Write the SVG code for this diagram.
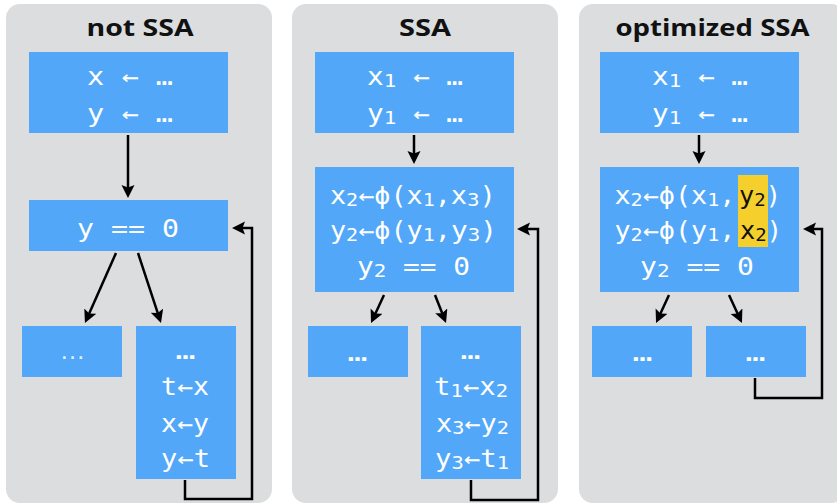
<svg xmlns="http://www.w3.org/2000/svg" width="837" height="504" viewBox="0 0 837 504">
<style>
.panel{fill:#DCDDDF}
.blk{fill:#52A7F8}
.hlbox{fill:#F5D02C}
.title{font-family:"Open Sans","Liberation Sans",sans-serif;font-weight:700;font-size:24px;fill:#111}
.code{font-family:"DejaVu Sans Mono","Liberation Mono",monospace;font-size:24px;fill:#fff}
.sub{font-size:18px}
.hl{fill:#111}
.dots{font-family:"Liberation Sans",sans-serif;font-size:26px;fill:#fff;fill-opacity:0.85}
.edge{fill:none;stroke:#000;stroke-width:2.5}
</style>
<defs>
<marker id="ah" markerUnits="userSpaceOnUse" markerWidth="14" markerHeight="14" refX="5" refY="6.5" orient="auto">
<path d="M0,0 L13,6.5 L0,13 L2.5,6.5 z" fill="#000"/>
</marker>
</defs>
<rect width="837" height="504" fill="#fff"/>

<g id="panel-not-ssa">
<rect class="panel" x="6" y="4" width="266" height="499" rx="14"/>
<text class="title" x="86.5" y="36" textLength="107" lengthAdjust="spacingAndGlyphs">not SSA</text>
</g>
<g id="panel-ssa">
<rect class="panel" x="292" y="4" width="266" height="499" rx="14"/>
<text class="title" x="399" y="36" textLength="52" lengthAdjust="spacingAndGlyphs">SSA</text>
</g>
<g id="panel-optimized-ssa">
<rect class="panel" x="579" y="4" width="266" height="499" rx="14"/>
<text class="title" x="615.5" y="36" textLength="194" lengthAdjust="spacingAndGlyphs">optimized SSA</text>
</g>

<!-- not SSA -->
<g id="n1-entry">
<rect class="blk" x="29" y="52" width="199" height="81"/>
<text class="code" x="87" y="85" textLength="86" lengthAdjust="spacingAndGlyphs">x ← …</text>
<text class="code" x="87" y="122" textLength="86" lengthAdjust="spacingAndGlyphs">y ← …</text>
</g>
<g id="n1-cond">
<rect class="blk" x="29" y="200" width="199" height="51"/>
<text class="code" x="77" y="237" textLength="102" lengthAdjust="spacingAndGlyphs">y == 0</text>
</g>
<g id="n1-exit">
<rect class="blk" x="22" y="326" width="100" height="51"/>
<text class="dots" x="72.5" y="359" text-anchor="middle">…</text>
</g>
<g id="n1-body">
<rect class="blk" x="136" y="326" width="100" height="153"/>
<text class="code" x="175.5" y="359" textLength="20" lengthAdjust="spacingAndGlyphs">…</text>
<text class="code" x="161" y="395" textLength="48" lengthAdjust="spacingAndGlyphs">t←x</text>
<text class="code" x="161" y="432" textLength="48" lengthAdjust="spacingAndGlyphs">x←y</text>
<text class="code" x="161" y="467" textLength="49" lengthAdjust="spacingAndGlyphs">y←t</text>
</g>

<!-- SSA -->
<g id="n2-entry">
<rect class="blk" x="315" y="52" width="199" height="81"/>
<text class="code" x="367" y="85" textLength="96" lengthAdjust="spacingAndGlyphs">x<tspan class="sub" dy="2">1</tspan><tspan dy="-2"> ← …</tspan></text>
<text class="code" x="367" y="122" textLength="96" lengthAdjust="spacingAndGlyphs">y<tspan class="sub" dy="2">1</tspan><tspan dy="-2"> ← …</tspan></text>
</g>
<g id="n2-cond">
<rect class="blk" x="315" y="167" width="199" height="125"/>
<text class="code" x="330" y="204" textLength="121" lengthAdjust="spacingAndGlyphs">x<tspan class="sub" dy="2">2</tspan><tspan dy="-2">←ϕ(x</tspan><tspan class="sub" dy="2">1</tspan><tspan dy="-2">,</tspan></text>
<text class="code" x="450.8" y="204" textLength="45" lengthAdjust="spacingAndGlyphs">x<tspan class="sub" dy="2">3</tspan><tspan dy="-2">)</tspan></text>
<text class="code" x="330" y="239" textLength="121" lengthAdjust="spacingAndGlyphs">y<tspan class="sub" dy="2">2</tspan><tspan dy="-2">←ϕ(y</tspan><tspan class="sub" dy="2">1</tspan><tspan dy="-2">,</tspan></text>
<text class="code" x="451" y="239" textLength="46" lengthAdjust="spacingAndGlyphs">y<tspan class="sub" dy="2">3</tspan><tspan dy="-2">)</tspan></text>
<text class="code" x="357" y="275" textLength="113" lengthAdjust="spacingAndGlyphs">y<tspan class="sub" dy="2">2</tspan><tspan dy="-2"> == 0</tspan></text>
</g>
<g id="n2-exit">
<rect class="blk" x="308" y="326" width="100" height="51"/>
<text class="code" x="347.5" y="361" textLength="20" lengthAdjust="spacingAndGlyphs">…</text>
</g>
<g id="n2-body">
<rect class="blk" x="421" y="326" width="100" height="153"/>
<text class="code" x="460.5" y="359" textLength="20" lengthAdjust="spacingAndGlyphs">…</text>
<text class="code" x="434" y="395" textLength="74" lengthAdjust="spacingAndGlyphs">t<tspan class="sub" dy="2">1</tspan><tspan dy="-2">←x</tspan><tspan class="sub" dy="2">2</tspan></text>
<text class="code" x="436" y="432" textLength="73" lengthAdjust="spacingAndGlyphs">x<tspan class="sub" dy="2">3</tspan><tspan dy="-2">←y</tspan><tspan class="sub" dy="2">2</tspan></text>
<text class="code" x="435" y="467" textLength="74" lengthAdjust="spacingAndGlyphs">y<tspan class="sub" dy="2">3</tspan><tspan dy="-2">←t</tspan><tspan class="sub" dy="2">1</tspan></text>
</g>

<!-- optimized SSA -->
<g id="n3-entry">
<rect class="blk" x="600" y="52" width="199" height="81"/>
<text class="code" x="652" y="85" textLength="96" lengthAdjust="spacingAndGlyphs">x<tspan class="sub" dy="2">1</tspan><tspan dy="-2"> ← …</tspan></text>
<text class="code" x="652" y="122" textLength="96" lengthAdjust="spacingAndGlyphs">y<tspan class="sub" dy="2">1</tspan><tspan dy="-2"> ← …</tspan></text>
</g>
<g id="n3-cond">
<rect class="blk" x="600" y="167" width="199" height="125"/>
<rect class="hlbox" x="738" y="175" width="30" height="72"/>
<text class="code" x="614.5" y="204" textLength="121" lengthAdjust="spacingAndGlyphs">x<tspan class="sub" dy="2">2</tspan><tspan dy="-2">←ϕ(x</tspan><tspan class="sub" dy="2">1</tspan><tspan dy="-2">,</tspan></text>
<text class="code" x="739" y="204" textLength="42" lengthAdjust="spacingAndGlyphs"><tspan class="hl">y</tspan><tspan class="sub hl" dy="2">2</tspan><tspan dy="-2">)</tspan></text>
<text class="code" x="614.5" y="239" textLength="121" lengthAdjust="spacingAndGlyphs">y<tspan class="sub" dy="2">2</tspan><tspan dy="-2">←ϕ(y</tspan><tspan class="sub" dy="2">1</tspan><tspan dy="-2">,</tspan></text>
<text class="code" x="740" y="239" textLength="42" lengthAdjust="spacingAndGlyphs"><tspan class="hl">x</tspan><tspan class="sub hl" dy="2">2</tspan><tspan dy="-2">)</tspan></text>
<text class="code" x="640" y="275" textLength="114" lengthAdjust="spacingAndGlyphs">y<tspan class="sub" dy="2">2</tspan><tspan dy="-2"> == 0</tspan></text>
</g>
<g id="n3-exit">
<rect class="blk" x="592" y="326" width="100" height="51"/>
<text class="code" x="632.5" y="361" textLength="20" lengthAdjust="spacingAndGlyphs">…</text>
</g>
<g id="n3-body">
<rect class="blk" x="706" y="326" width="100" height="51"/>
<text class="code" x="745.5" y="361" textLength="20" lengthAdjust="spacingAndGlyphs">…</text>
</g>

<g id="connectors">
<path class="edge" marker-end="url(#ah)" d="M128,135 V190"/>
<path class="edge" marker-end="url(#ah)" d="M116,253 L88.2,315.7"/>
<path class="edge" marker-end="url(#ah)" d="M138,253 L158.5,315.4"/>
<path class="edge" marker-end="url(#ah)" d="M185,480 V499 H252 V228 H240"/>

<path class="edge" marker-end="url(#ah)" d="M414,135 V156"/>
<path class="edge" marker-end="url(#ah)" d="M384,295 L374.4,315.7"/>
<path class="edge" marker-end="url(#ah)" d="M435,295 L443.1,315.5"/>
<path class="edge" marker-end="url(#ah)" d="M471,480 V500 H538 V229 H525"/>

<path class="edge" marker-end="url(#ah)" d="M699,135 V156"/>
<path class="edge" marker-end="url(#ah)" d="M669,295 L659.4,315.7"/>
<path class="edge" marker-end="url(#ah)" d="M729,295 L738.6,315.7"/>
<path class="edge" marker-end="url(#ah)" d="M755,378 V398 H822 V229 H811"/>
</g>
</svg>
